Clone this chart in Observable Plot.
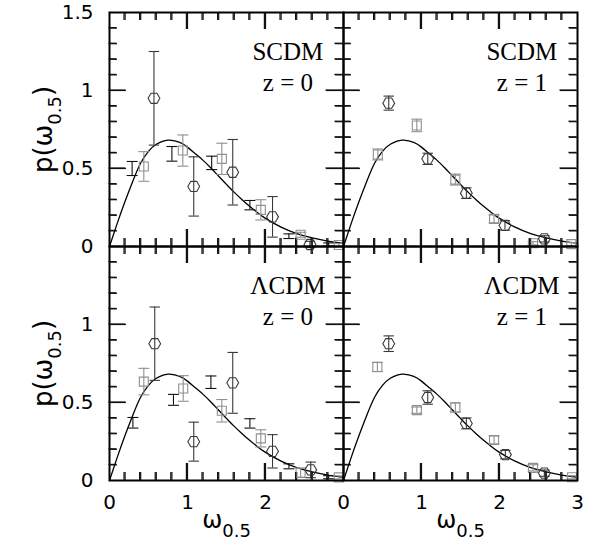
<!DOCTYPE html>
<html><head><meta charset="utf-8">
<script src="https://cdn.jsdelivr.net/npm/d3@7"></script>
<script src="https://cdn.jsdelivr.net/npm/@observablehq/plot@0.6"></script>
<style>body{margin:0;background:#fff} #chart{width:601px;height:554px}</style>
</head><body><div id="chart"></div>
<script>
// Panels
const models = ["SCDM", "ΛCDM"];
const redshifts = ["0", "1"];

// Model curve p(ω0.5) (same in all panels)
const curveW = [0, 0.1, 0.2, 0.3, 0.4, 0.5, 0.6, 0.7, 0.77, 0.9, 1.0, 1.1, 1.2, 1.3, 1.4, 1.5, 1.6, 1.7, 1.8, 1.9, 2.0, 2.2, 2.4, 2.6, 2.8, 3.0];
const curveP = [0, 0.15, 0.29, 0.42, 0.535, 0.61, 0.655, 0.677, 0.682, 0.667, 0.637, 0.595, 0.552, 0.503, 0.45, 0.398, 0.347, 0.3, 0.256, 0.216, 0.18, 0.124, 0.083, 0.055, 0.034, 0.02];

// SCDM z=0
const scdm0HexW = [0.57, 1.08, 1.58, 2.09, 2.57];
const scdm0HexP = [0.95, 0.385, 0.476, 0.19, 0.013];
const scdm0HexE = [0.30, 0.19, 0.21, 0.13, 0.02];
const scdm0SqW = [0.44, 0.94, 1.44, 1.94, 2.45, 2.94];
const scdm0SqP = [0.513, 0.615, 0.562, 0.235, 0.075, 0.01];
const scdm0SqE = [0.095, 0.10, 0.10, 0.065, 0.016, 0.01];
const scdm0BarW = [0.29, 0.80, 1.31, 1.80, 2.30, 2.81];
const scdm0BarP = [0.50, 0.594, 0.536, 0.265, 0.066, 0.013];
const scdm0BarE = [0.045, 0.047, 0.043, 0.03, 0.015, 0.01];

// SCDM z=1
const scdm1HexW = [0.58, 1.08, 1.575, 2.07, 2.575];
const scdm1HexP = [0.919, 0.562, 0.342, 0.135, 0.049];
const scdm1HexE = [0.045, 0.036, 0.034, 0.03, 0.02];
const scdm1SqW = [0.44, 0.94, 1.434, 1.93, 2.43, 2.92];
const scdm1SqP = [0.59, 0.776, 0.429, 0.177, 0.021, 0.015];
const scdm1SqE = [0.035, 0.04, 0.035, 0.025, 0.01, 0.01];

// ΛCDM z=0
const lcdm0HexW = [0.58, 1.08, 1.58, 2.09, 2.58];
const lcdm0HexP = [0.877, 0.249, 0.626, 0.187, 0.068];
const lcdm0HexE = [0.235, 0.125, 0.195, 0.107, 0.05];
const lcdm0SqW = [0.44, 0.945, 1.44, 1.94, 2.45, 2.94];
const lcdm0SqP = [0.634, 0.59, 0.447, 0.27, 0.05, 0.02];
const lcdm0SqE = [0.085, 0.082, 0.072, 0.055, 0.03, 0.01];
const lcdm0BarW = [0.30, 0.82, 1.30, 1.80, 2.30, 2.81];
const lcdm0BarP = [0.37, 0.517, 0.63, 0.366, 0.091, 0.021];
const lcdm0BarE = [0.034, 0.035, 0.04, 0.03, 0.016, 0.01];

// ΛCDM z=1
const lcdm1HexW = [0.58, 1.08, 1.575, 2.075, 2.575];
const lcdm1HexP = [0.877, 0.532, 0.366, 0.166, 0.047];
const lcdm1HexE = [0.05, 0.043, 0.035, 0.027, 0.02];
const lcdm1SqW = [0.434, 0.94, 1.434, 1.93, 2.43, 2.93];
const lcdm1SqP = [0.728, 0.451, 0.468, 0.26, 0.081, 0.021];
const lcdm1SqE = [0.03, 0.02, 0.03, 0.025, 0.02, 0.01];

// Ticks and tick labels
const xMinorTicks = [0.2, 0.4, 0.6, 0.8, 1.2, 1.4, 1.6, 1.8, 2.2, 2.4, 2.6, 2.8];
const xMajorTicks = [1, 2];
const yMinorTicks = [0.1, 0.2, 0.3, 0.4, 0.6, 0.7, 0.8, 0.9, 1.1, 1.2, 1.3, 1.4];
const yMajorTicks = [0.5, 1];
const leftXLabels = [0, 1, 2];
const rightXLabels = [0, 1, 2, 3];
const topYLabels = [0, 0.5, 1, 1.5];
const bottomYLabels = [0, 0.5, 1];
const xDomain = [0, 3];
const yDomain = [0, 1.5];

// ---- layout ----
const W = 601, H = 554, ML = 108.4, MR = 23.4, MT = 12, MB = 74;
const panelW = (W - ML - MR) / redshifts.length;
const panelH = (H - MT - MB) / models.length;
const xLen = px => px * (xDomain[1] - xDomain[0]) / panelW;
const yLen = px => px * (yDomain[1] - yDomain[0]) / panelH;

// ---- build tables ----
const rows = (model, z, w, p, e) => w.map((wi, i) => ({model, z, w: wi, p: p[i], e: e[i]}));
const hexRows = [
  ...rows("SCDM", "0", scdm0HexW, scdm0HexP, scdm0HexE),
  ...rows("SCDM", "1", scdm1HexW, scdm1HexP, scdm1HexE),
  ...rows("ΛCDM", "0", lcdm0HexW, lcdm0HexP, lcdm0HexE),
  ...rows("ΛCDM", "1", lcdm1HexW, lcdm1HexP, lcdm1HexE)
];
const sqRows = [
  ...rows("SCDM", "0", scdm0SqW, scdm0SqP, scdm0SqE),
  ...rows("SCDM", "1", scdm1SqW, scdm1SqP, scdm1SqE),
  ...rows("ΛCDM", "0", lcdm0SqW, lcdm0SqP, lcdm0SqE),
  ...rows("ΛCDM", "1", lcdm1SqW, lcdm1SqP, lcdm1SqE)
];
const barRows = [
  ...rows("SCDM", "0", scdm0BarW, scdm0BarP, scdm0BarE),
  ...rows("ΛCDM", "0", lcdm0BarW, lcdm0BarP, lcdm0BarE)
];
const curveRows = curveW.map((w, i) => ({w, p: curveP[i]}));
const panelRows = models.flatMap(m => redshifts.map(z => ({model: m, z})));
const perPanel = values => panelRows.flatMap(pr => values.map(v => ({...pr, v})));
const xLabelRows = [
  ...leftXLabels.map(v => ({z: "0", v})),
  ...rightXLabels.map(v => ({z: "1", v}))
];
const yLabelRows = [
  ...topYLabels.map(v => ({model: "SCDM", v})),
  ...bottomYLabels.map(v => ({model: "ΛCDM", v}))
];

// ---- symbols ----
const rad = size => Math.sqrt(size / Math.PI);
const hexSymbol = {draw(ctx, size) {
  const r = rad(size), h = r * Math.sqrt(3) / 2;
  ctx.moveTo(r, 0); ctx.lineTo(r / 2, h); ctx.lineTo(-r / 2, h);
  ctx.lineTo(-r, 0); ctx.lineTo(-r / 2, -h); ctx.lineTo(r / 2, -h); ctx.closePath();
}};
const sqSymbol = {draw(ctx, size) {
  const r = rad(size);
  ctx.moveTo(-r, -r); ctx.lineTo(r, -r); ctx.lineTo(r, r); ctx.lineTo(-r, r); ctx.closePath();
}};
const hLine = {draw(ctx, size) { const r = rad(size); ctx.moveTo(-r, 0); ctx.lineTo(r, 0); }};

const hexColor = "#3a3a3a", sqColor = "#8f8f8f", barColor = "#111", tickColor = "#111";

function errorMarks(data, color, capR, sw) {
  return [
    Plot.ruleX(data, {x: "w", y1: d => d.p - d.e, y2: d => d.p + d.e, fx: "z", fy: "model", stroke: color, strokeWidth: sw}),
    Plot.dot(data, {x: "w", y: d => d.p + d.e, fx: "z", fy: "model", symbol: hLine, r: capR, stroke: color, fill: "none", strokeWidth: sw}),
    Plot.dot(data, {x: "w", y: d => d.p - d.e, fx: "z", fy: "model", symbol: hLine, r: capR, stroke: color, fill: "none", strokeWidth: sw})
  ];
}
function xTicks(values, len) {
  const d = perPanel(values), l = yLen(len);
  return [
    Plot.ruleX(d, {x: "v", y1: () => yDomain[0], y2: () => yDomain[0] + l, fx: "z", fy: "model", stroke: tickColor, strokeWidth: 1.2}),
    Plot.ruleX(d, {x: "v", y1: () => yDomain[1] - l, y2: () => yDomain[1], fx: "z", fy: "model", stroke: tickColor, strokeWidth: 1.2})
  ];
}
function yTicks(values, len) {
  const d = perPanel(values), l = xLen(len);
  return [
    Plot.ruleY(d, {y: "v", x1: () => xDomain[0], x2: () => xDomain[0] + l, fx: "z", fy: "model", stroke: tickColor, strokeWidth: 1.2}),
    Plot.ruleY(d, {y: "v", x1: () => xDomain[1] - l, x2: () => xDomain[1], fx: "z", fy: "model", stroke: tickColor, strokeWidth: 1.2})
  ];
}

const chart = Plot.plot({
  width: W,
  height: H,
  marginLeft: ML,
  marginRight: MR,
  marginTop: MT,
  marginBottom: MB,
  style: {fontFamily: "DejaVu Sans", fontSize: "19px"},
  fx: {domain: redshifts, padding: 0, axis: null},
  fy: {domain: models, padding: 0, axis: null},
  x: {domain: xDomain, axis: null},
  y: {domain: yDomain, axis: null},
  marks: [
    ...xTicks(xMinorTicks, 8),
    ...xTicks(xMajorTicks, 17),
    ...yTicks(yMinorTicks, 8),
    ...yTicks(yMajorTicks, 17),
    Plot.line(curveRows, {x: "w", y: "p", curve: "natural", stroke: "black", strokeWidth: 1.3}),
    ...errorMarks(barRows, barColor, 5.5, 1.1),
    ...errorMarks(sqRows, sqColor, 5.5, 1.1),
    Plot.dot(sqRows, {x: "w", y: "p", fx: "z", fy: "model", symbol: sqSymbol, r: 4.5, stroke: sqColor, fill: "none", strokeWidth: 1.1}),
    ...errorMarks(hexRows, hexColor, 5.2, 1.1),
    Plot.dot(hexRows, {x: "w", y: "p", fx: "z", fy: "model", symbol: hexSymbol, r: 5.9, stroke: hexColor, fill: "none", strokeWidth: 1.1}),
    Plot.frame({stroke: "black", strokeWidth: 2}),
    Plot.text(panelRows, {fx: "z", fy: "model", text: "model", frameAnchor: "top-right", dx: -55.6, dy: 30, textAnchor: "middle", fontFamily: "Liberation Serif", fontSize: 25, fill: "black"}),
    Plot.text(panelRows, {fx: "z", fy: "model", text: d => "z = " + d.z, frameAnchor: "top-right", dx: -55.6, dy: 61, textAnchor: "middle", fontFamily: "Liberation Serif", fontSize: 25, fill: "black"}),
    Plot.text(xLabelRows, {x: "v", fx: "z", fy: () => "ΛCDM", text: d => String(d.v), frameAnchor: "bottom", dy: 28, fontSize: 20, fill: "black"}),
    Plot.text(yLabelRows, {y: "v", fx: () => "0", fy: "model", text: d => String(d.v), frameAnchor: "left", dx: -16, textAnchor: "end", fontSize: 20, fill: "black"}),
    Plot.text(redshifts, {fx: d => d, fy: () => "ΛCDM", text: () => "ω_0.5", frameAnchor: "bottom", dy: 47, fontSize: 24, fill: "black"}),
    Plot.text(models, {fx: () => "0", fy: d => d, text: () => "p(ω_0.5)", frameAnchor: "left", dx: -66, rotate: -90, fontSize: 26, fill: "black"})
  ]
});

document.getElementById("chart").appendChild(chart);

// frame ticks, positioned with the plot's own x, y, fx and fy scales
try {
  const sx = chart.scale("x"), sy = chart.scale("y"), sfx = chart.scale("fx"), sfy = chart.scale("fy");
  const tg = d3.select(chart).append("g").attr("stroke", "#111").attr("stroke-width", 1.2).attr("fill", "none");
  const seg = (a, b, c, d) => tg.append("line").attr("x1", a).attr("y1", b).attr("x2", c).attr("y2", d);
  panelRows.forEach(({model, z}) => {
    const ox = sfx.apply(z) - sfx.apply(redshifts[0]);
    const oy = sfy.apply(model) - sfy.apply(models[0]);
    const xl = sx.apply(xDomain[0]) + ox, xr = sx.apply(xDomain[1]) + ox;
    const yb = sy.apply(yDomain[0]) + oy, yt = sy.apply(yDomain[1]) + oy;
    [[xMinorTicks, 8], [xMajorTicks, 17]].forEach(([vals, len]) => vals.forEach(v => {
      const X = sx.apply(v) + ox;
      seg(X, yb, X, yb - len); seg(X, yt, X, yt + len);
    }));
    [[yMinorTicks, 8], [yMajorTicks, 17]].forEach(([vals, len]) => vals.forEach(v => {
      const Y = sy.apply(v) + oy;
      seg(xl, Y, xl + len, Y); seg(xr, Y, xr - len, Y);
    }));
  });
} catch (e) {}

// turn "_0.5" into a real subscript, then centre the whole label on its anchor
chart.querySelectorAll("text").forEach(t => {
  const s = t.textContent;
  const i = s.indexOf("_0.5");
  if (i < 0) return;
  const before = s.slice(0, i), after = s.slice(i + 4);
  while (t.firstChild) t.removeChild(t.firstChild);
  const ns = "http://www.w3.org/2000/svg";
  const a = document.createElementNS(ns, "tspan"); a.textContent = before; t.appendChild(a);
  const b = document.createElementNS(ns, "tspan"); b.textContent = "0.5"; b.setAttribute("dy", "9"); b.setAttribute("font-size", "18"); t.appendChild(b);
  if (after) { const c = document.createElementNS(ns, "tspan"); c.textContent = after; c.setAttribute("dy", "-9"); t.appendChild(c); }
  t.setAttribute("text-anchor", "start");
  const L = t.getComputedTextLength();
  a.setAttribute("x", String(-L / 2));
});
</script></body></html>
